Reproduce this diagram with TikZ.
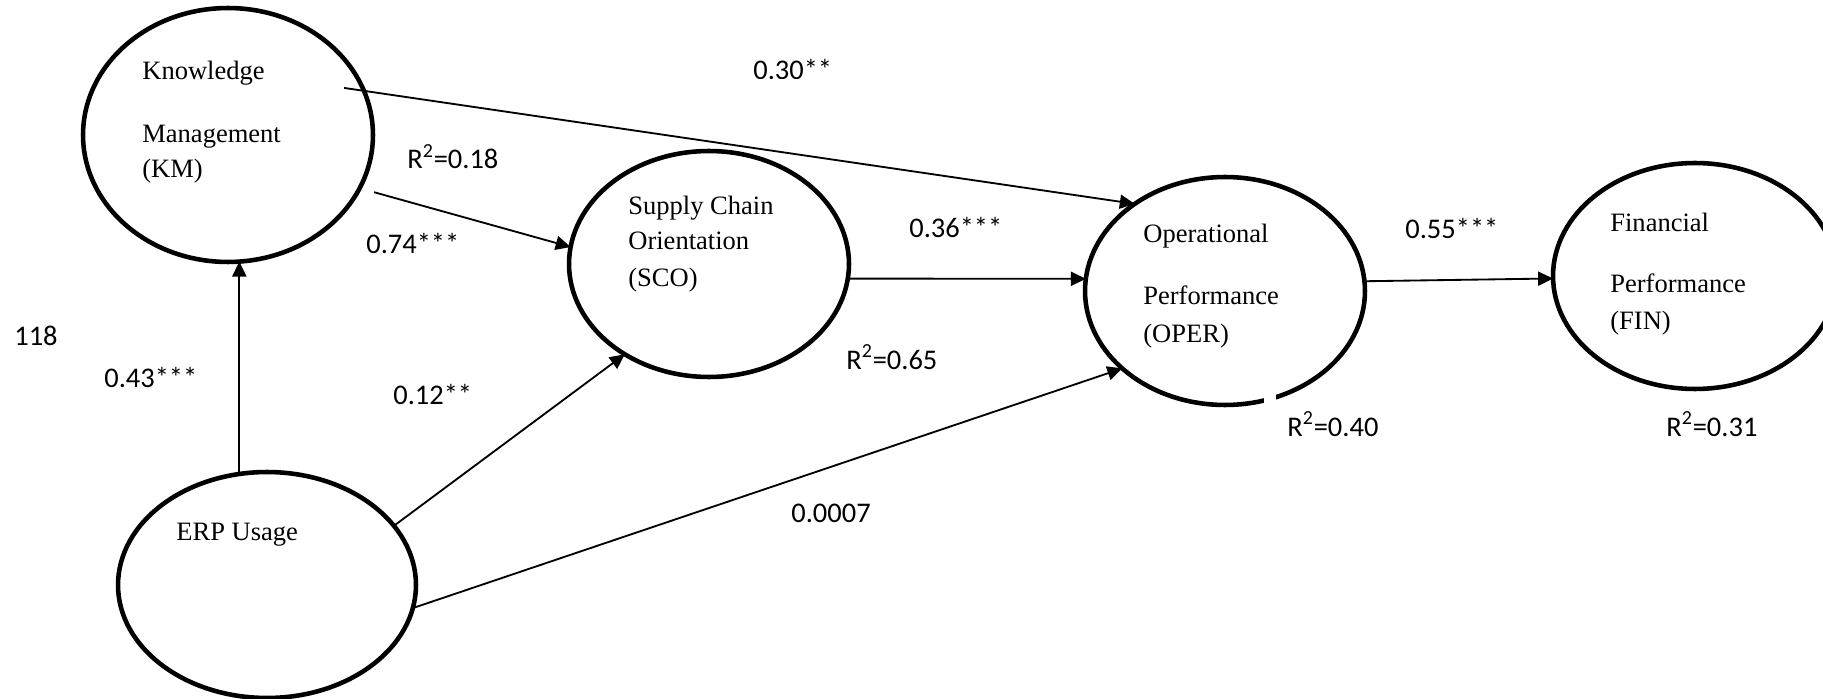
\documentclass[tikz,border=0pt]{standalone}
\usepackage{fontspec}
\setmainfont{Liberation Serif}
\newfontfamily\numfont{Carlito}
\usetikzlibrary{arrows.meta,shapes.geometric}
\begin{document}
\begin{tikzpicture}[x=0.02cm,y=-0.02cm,
  construct/.style={ellipse, draw, line width=2.6pt, inner sep=0pt, outer sep=0pt},
  link/.style={line width=1.05pt, -{Triangle[length=8.5pt,width=8pt]}},
  vname/.style={font=\fontsize{15.1}{18}\selectfont, anchor=base west, inner sep=0pt},
  coef/.style={font=\numfont\fontsize{16.2}{19}\selectfont, anchor=base west, inner sep=0pt}]

\useasboundingbox (0,0) rectangle (1823,699);

% latent constructs
\node[construct, minimum width=5.8cm,  minimum height=5.08cm] (KM)   at (228,135)  {};
\node[construct, minimum width=5.6cm,  minimum height=4.52cm] (SCO)  at (709,264)  {};
\node[construct, minimum width=5.6cm,  minimum height=4.56cm] (OPER) at (1225,291) {};
\node[construct, minimum width=5.68cm, minimum height=4.52cm] (FIN)  at (1695,276) {};
\node[construct, minimum width=5.96cm, minimum height=4.52cm] (ERP)  at (267,585)  {};

% small break in the outline of OPER
\fill[white] (1264,388) rectangle (1276,410);

% construct names
\node[vname] (kmA)   at (142,80)   {Knowledge};
\node[vname] (kmB)   at (142,143)  {Management};
\node[vname] (kmC)   at (142,178)  {(KM)};
\node[vname] (scoA)  at (628,215)  {Supply Chain};
\node[vname] (scoB)  at (628,250)  {Orientation};
\node[vname] (scoC)  at (628,287)  {(SCO)};
\node[vname] (operA) at (1143,243) {Operational};
\node[vname] (operB) at (1143,305) {Performance};
\node[vname] (operC) at (1143,342) {(OPER)};
\node[vname] (finA)  at (1610,232) {Financial};
\node[vname] (finB)  at (1610,293) {Performance};
\node[vname] (finC)  at (1610,330) {(FIN)};
\node[vname] (erpA)  at (176,540)  {ERP Usage};

% structural paths
\draw[link] (ERP.104.4) -- (ERP.104.4 |- KM.275.4);
\draw[link, shorten <=0.3cm] (KM.-22.8) -- (SCO.173.5);
\draw[link, shorten <=-0.4cm] (KM.18) -- (OPER.136.8);
\draw[link] (SCO.-6.59) -- (OPER.175.49);
\draw[link] (OPER.4.51) -- (FIN.181.6);
\draw[link] (ERP.25.25) -- (SCO.227.4);
\draw[link] (ERP.-9.72) -- (OPER.217.3);

% path coefficients and explained variance
\begin{scope}
  \clip (0,0) rectangle (1823,78.5);
  \node[coef] (c1) at (753,80) {0.30**};
\end{scope}
\node[coef] (r1) at (407,169)  {R\textsuperscript{2}=0.18};
\node[coef] (c2) at (366,254)  {0.74***};
\node[coef] (c3) at (909,238)  {0.36***};
\node[coef] (c4) at (1405,239) {0.55***};
\node[coef] (r2) at (846,369)  {R\textsuperscript{2}=0.65};
\node[coef] (r3) at (1287,436) {R\textsuperscript{2}=0.40};
\node[coef] (r4) at (1666,436) {R\textsuperscript{2}=0.31};
\node[coef] (pg) at (14,345)   {118};
\node[coef] (c5) at (104,387)  {0.43***};
\node[coef] (c6) at (393,404)  {0.12**};
\node[coef] (c7) at (791,522)  {0.0007};
\end{tikzpicture}
\end{document}
